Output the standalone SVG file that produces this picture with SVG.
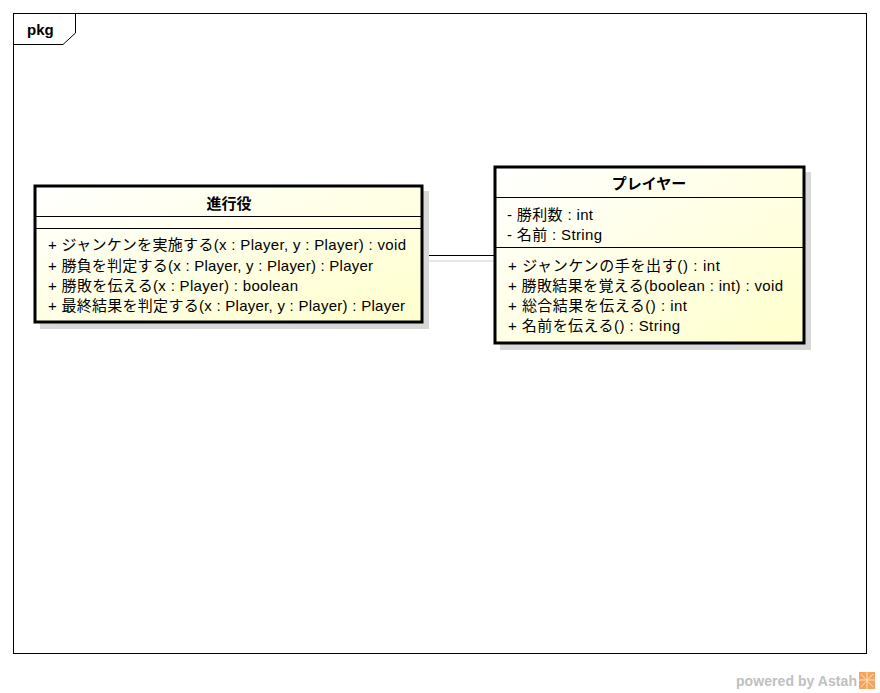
<svg xmlns="http://www.w3.org/2000/svg" width="880" height="693" viewBox="0 0 880 693">
<defs>
<linearGradient id="g" x1="0" y1="0" x2="1" y2="1">
<stop offset="0" stop-color="#ffffff"/>
<stop offset="1" stop-color="#ffffcc"/>
</linearGradient>
<style>
.t{font-family:"Liberation Sans","Noto Sans CJK JP",sans-serif;font-size:15px;fill:#000}
.b{font-family:"Liberation Sans","Noto Sans CJK JP",sans-serif;font-size:15px;font-weight:bold;fill:#000;text-anchor:middle}
.box{fill:url(#g);stroke:#000;stroke-width:3}
.sh{fill:#d8d8d8}
.sep{stroke:#000;stroke-width:1.2}
</style>
</defs>
<rect width="880" height="693" fill="#fff"/>
<g id="frame">
<rect x="13.5" y="13.5" width="853" height="640" fill="none" stroke="#000" stroke-width="1"/>
<path d="M13.5 44.5 H63 L75.5 33 V13.5" fill="none" stroke="#000" stroke-width="1"/>
<text x="27" y="35" style="font-family:'Liberation Sans',sans-serif;font-size:15px;font-weight:bold">pkg</text>
</g>
<g id="connectors">
<line x1="428" y1="261" x2="500" y2="261" stroke="#d0d0d0" stroke-width="1"/>
<line x1="423" y1="255.5" x2="494" y2="255.5" stroke="#000" stroke-width="1"/>
</g>
<g id="node-shinkouyaku">
<rect class="sh" x="40" y="191" width="389" height="138"/>
<rect class="box" x="35" y="186" width="387" height="136"/>
<line class="sep" x1="35" y1="216.5" x2="422" y2="216.5"/>
<line class="sep" x1="35" y1="228.5" x2="422" y2="228.5"/>
<text class="b" x="229" y="209">進行役</text>
<text class="t" x="48" y="250" textLength="358">+ ジャンケンを実施する(x : Player, y : Player) : void</text>
<text class="t" x="48" y="271" textLength="325">+ 勝負を判定する(x : Player, y : Player) : Player</text>
<text class="t" x="48" y="291" textLength="250">+ 勝敗を伝える(x : Player) : boolean</text>
<text class="t" x="48" y="311" textLength="357">+ 最終結果を判定する(x : Player, y : Player) : Player</text>
</g>
<g id="node-player">
<rect class="sh" x="500" y="172" width="311" height="178"/>
<rect class="box" x="495" y="167" width="309" height="176"/>
<line class="sep" x1="495" y1="197.5" x2="804" y2="197.5"/>
<line class="sep" x1="495" y1="247.5" x2="804" y2="247.5"/>
<text class="b" x="649" y="189">プレイヤー</text>
<text class="t" x="507" y="220" textLength="86">- 勝利数 : int</text>
<text class="t" x="507" y="240" textLength="95">- 名前 : String</text>
<text class="t" x="508" y="271" textLength="212">+ ジャンケンの手を出す() : int</text>
<text class="t" x="508" y="291" textLength="275">+ 勝敗結果を覚える(boolean : int) : void</text>
<text class="t" x="508" y="311" textLength="179">+ 総合結果を伝える() : int</text>
<text class="t" x="508" y="331" textLength="172">+ 名前を伝える() : String</text>
</g>
<g id="watermark">
<text x="736" y="686" style="font-family:'Liberation Sans',sans-serif;font-size:14px;font-weight:bold;fill:#c0c0c0" textLength="121">powered by Astah</text>
<rect x="859" y="672" width="16" height="17" fill="#f4a460"/>
<path d="M867 672 V689 M859 680 H875 M861 674 L873 687 M873 674 L861 687" stroke="#ffe0b0" stroke-width="1"/>
</g>
</svg>
